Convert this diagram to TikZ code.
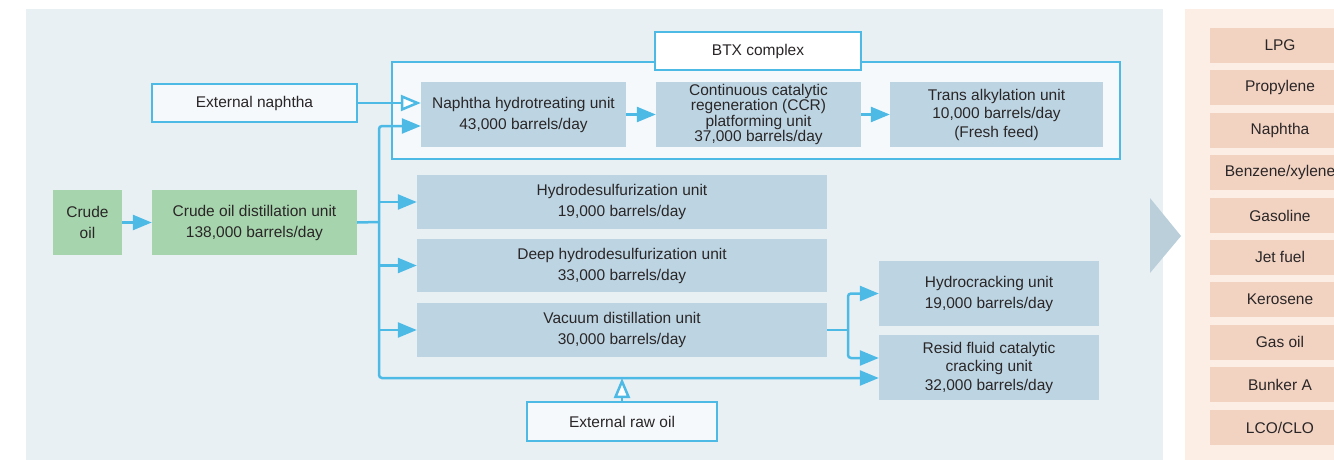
\documentclass[tikz,border=0pt]{standalone}
\usepackage{fontspec}
\setmainfont{Liberation Sans}
\usetikzlibrary{arrows.meta,calc}
\definecolor{panel}{HTML}{E8F0F4}
\definecolor{unitblue}{HTML}{BDD5E3}
\definecolor{unitgreen}{HTML}{A6D5AD}
\definecolor{flow}{HTML}{4DBAE6}
\definecolor{btxfill}{HTML}{F5F9FB}
\definecolor{peach}{HTML}{FCEEE5}
\definecolor{prod}{HTML}{F2D3C2}
\definecolor{tri}{HTML}{BBCFDB}
\definecolor{txt}{HTML}{2A2627}
\begin{document}
\begin{tikzpicture}[x=1pt,y=-1pt,
  every node/.style={text=txt, font=\fontsize{15.5}{21}\selectfont, inner sep=0pt, align=center},
  unit/.style={fill=unitblue},
  crudebox/.style={fill=unitgreen},
  extbox/.style={fill=btxfill, draw=flow, line width=2.5pt},
  prodbox/.style={fill=prod, minimum width=140pt, minimum height=35pt, anchor=center},
  line/.style={draw=flow, line width=2.5pt},
  arr/.style={line, -{Triangle[length=19pt 0 0,width=15pt 0 0]}},
  oarr/.style={line, -{Triangle[open,fill=white,length=20pt 0 0,width=16pt 0 0]}},
  tight/.style={font=\fontsize{15.5}{15.6}\selectfont},
  mid/.style={font=\fontsize{15.5}{18.5}\selectfont}
]
\useasboundingbox (0,0) rectangle (1334,460);
\clip (0,0) rectangle (1334,460);
\fill[white] (0,0) rectangle (1334,460);
\fill[panel] (26,9) rectangle (1163,460);
\fill[peach] (1185,9) rectangle (1334,460);
\fill[tri] (1150,198) -- (1181,236) -- (1150,273) -- cycle;

% BTX complex frame
\node[fill=btxfill, draw=flow, line width=2.5pt, minimum width=728pt, minimum height=97pt] (btx) at (756,110.5) {};
\node[fill=white, draw=flow, line width=2.5pt, minimum width=206pt, minimum height=38pt] (btxlabel) at (758,51) {BTX complex};

% units
\node[extbox, minimum width=205pt, minimum height=38pt] (extn) at (254.5,103) {External naphtha};
\node[unit, minimum width=205pt, minimum height=65pt] (nht) at (523.5,114.5) {Naphtha hydrotreating unit\\43,000 barrels/day};
\node[unit, tight, minimum width=205pt, minimum height=65pt] (ccr) at (758.5,114.5) {Continuous catalytic\\regeneration (CCR)\\platforming unit\\37,000 barrels/day};
\node[unit, mid, minimum width=213pt, minimum height=65pt] (ta) at (996.5,114.5) {Trans alkylation unit\\10,000 barrels/day\\(Fresh feed)};
\node[crudebox, minimum width=69pt, minimum height=65pt] (crude) at (87.5,222.5) {Crude\\oil};
\node[crudebox, minimum width=205pt, minimum height=65pt] (cdu) at (254.5,222.5) {Crude oil distillation unit\\138,000 barrels/day};
\node[unit, minimum width=410pt, minimum height=54pt] (hds) at (622,202) {Hydrodesulfurization unit\\19,000 barrels/day};
\node[unit, minimum width=410pt, minimum height=53pt] (dhds) at (622,265.5) {Deep hydrodesulfurization unit\\33,000 barrels/day};
\node[unit, minimum width=410pt, minimum height=54pt] (vdu) at (622,330) {Vacuum distillation unit\\30,000 barrels/day};
\node[unit, minimum width=220pt, minimum height=65pt] (hcu) at (989,293.5) {Hydrocracking unit\\19,000 barrels/day};
\node[unit, mid, minimum width=220pt, minimum height=65pt] (rfcc) at (989,367.5) {Resid fluid catalytic\\cracking unit\\32,000 barrels/day};
\node[extbox, minimum width=190pt, minimum height=39pt] (raw) at (622,421.5) {External raw oil};

% products
\node[prodbox] (p1) at (1280,45.5) {LPG};
\node[prodbox] (p2) at (1280,87.5) {Propylene};
\node[prodbox] (p3) at (1280,130.5) {Naphtha};
\node[prodbox] (p4) at (1280,172.5) {Benzene/xylene};
\node[prodbox] (p5) at (1280,215.5) {Gasoline};
\node[prodbox] (p6) at (1280,257) {Jet fuel};
\node[prodbox] (p7) at (1280,299.5) {Kerosene};
\node[prodbox] (p8) at (1280,342) {Gas oil};
\node[prodbox] (p9) at (1280,384.5) {Bunker A};
\node[prodbox] (p10) at (1280,427.5) {LCO/CLO};

% connectors
\coordinate (tr) at (379,222);
\coordinate (sp) at (848,330);
\coordinate (nhtin) at ($(nht.west)+(0,11.5)$);
\coordinate (rfccin) at ($(rfcc.west)+(0,10.5)$);
\coordinate (rfccvd) at ($(rfcc.west)+(0,-9.5)$);

\draw[arr] (crude) -- (cdu);
\draw[line] (cdu.east) -- (tr);
\draw[arr, rounded corners=3pt] (tr) |- (nhtin);
\draw[arr, rounded corners=3pt] (tr) |- (rfccin);
\draw[arr] (hds.west -| tr) -- (hds.west);
\draw[arr] (dhds.west -| tr) -- (dhds.west);
\draw[arr] (vdu.west -| tr) -- (vdu.west);
\draw[oarr] (extn.east) -- (extn.east -| nht.west);
\draw[arr] (nht) -- (ccr);
\draw[arr] (ccr) -- (ta);
\draw[line] (vdu.east) -- (sp);
\draw[arr, rounded corners=3pt] (sp) |- (hcu.west);
\draw[arr, rounded corners=3pt] (sp) |- (rfccvd);
\draw[oarr] (raw.north) -- (raw.north |- rfccin);
\end{tikzpicture}
\end{document}
